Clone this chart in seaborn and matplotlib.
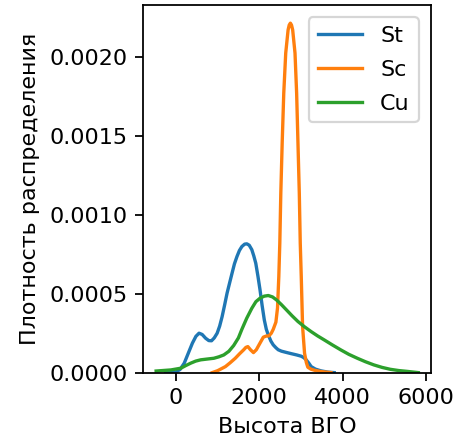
import matplotlib
matplotlib.use("Agg")
import matplotlib.pyplot as plt
import seaborn as sns
import pandas as pd

# density curves (x = height, y = density)
st_x = [-250, 0, 100, 200, 300, 396, 480, 555, 630, 713, 790, 855, 920, 990, 1050,
        1109, 1170, 1228, 1290, 1347, 1405, 1465, 1525, 1584, 1650, 1703, 1760,
        1822, 1870, 1917, 1970, 2019, 2070, 2122, 2170, 2217, 2280, 2336, 2400,
        2455, 2534, 2650, 2772, 2900, 3009, 3070, 3128, 3190, 3247, 3350, 3484,
        3650, 3800]
st_y = [0, 4e-6, 2.0e-5, 6.0e-5, 1.25e-4, 1.87e-4, 2.3e-4, 2.5e-4, 2.42e-4,
        2.18e-4, 2.03e-4, 2.02e-4, 2.2e-4, 2.5e-4, 2.95e-4, 3.55e-4, 4.3e-4,
        5.04e-4, 5.7e-4, 6.3e-4, 6.9e-4, 7.36e-4, 7.75e-4, 8.0e-4, 8.15e-4,
        8.17e-4, 8.08e-4, 7.8e-4, 7.4e-4, 6.94e-4, 6.1e-4, 5.25e-4, 4.25e-4,
        3.34e-4, 2.75e-4, 2.39e-4, 2.0e-4, 1.76e-4, 1.58e-4, 1.45e-4, 1.36e-4,
        1.28e-4, 1.2e-4, 1.12e-4, 1.04e-4, 9.5e-5, 8.1e-5, 6.0e-5, 3.8e-5,
        2.2e-5, 1.1e-5, 3e-6, 0]

sc_x = [872, 1000, 1188, 1300, 1425, 1530, 1624, 1680, 1727, 1790, 1861, 1930,
        1995, 2099, 2170, 2233, 2290, 2337, 2400, 2439, 2470, 2494, 2518, 2551,
        2589, 2636, 2693, 2720, 2748, 2775, 2803, 2859, 2898, 2930, 2962, 2985,
        3009, 3041, 3088, 3130, 3167, 3240, 3325, 3500, 3722]
sc_y = [0, 1.2e-5, 3.8e-5, 6.2e-5, 9.1e-5, 1.2e-4, 1.44e-4, 1.6e-4, 1.65e-4,
        1.45e-4, 1.27e-4, 1.45e-4, 1.76e-4, 2.25e-4, 2.32e-4, 2.33e-4, 2.5e-4,
        2.75e-4, 3.2e-4, 4.1e-4, 6.09e-4, 8.21e-4, 1.138e-3, 1.456e-3,
        1.773e-3, 2.027e-3, 2.174e-3, 2.205e-3, 2.217e-3, 2.205e-3, 2.174e-3,
        2.027e-3, 1.773e-3, 1.456e-3, 1.138e-3, 8.21e-4, 6.09e-4, 2.92e-4,
        1.23e-4, 6.5e-5, 3.4e-5, 2.2e-5, 1.5e-5, 6e-6, 0]

cu_x = [-475, -119, 119, 240, 356, 475, 594, 750, 911, 1030, 1149, 1270, 1387,
        1500, 1584, 1700, 1822, 1920, 2019, 2120, 2217, 2320, 2415, 2530, 2653,
        2790, 2930, 3090, 3247, 3400, 3563, 3760, 3959, 4150, 4355, 4550, 4750,
        4950, 5146, 5350, 5543, 5819]
cu_y = [1.0e-5, 1.7e-5, 2.8e-5, 4.5e-5, 6.0e-5, 7.3e-5, 8.1e-5, 8.6e-5, 9.1e-5,
        1.0e-4, 1.12e-4, 1.35e-4, 1.72e-4, 2.2e-4, 2.75e-4, 3.45e-4, 4.08e-4,
        4.5e-4, 4.72e-4, 4.85e-4, 4.89e-4, 4.8e-4, 4.61e-4, 4.32e-4, 3.98e-4,
        3.6e-4, 3.24e-4, 2.9e-4, 2.6e-4, 2.33e-4, 2.07e-4, 1.75e-4, 1.44e-4,
        1.16e-4, 9.1e-5, 6.9e-5, 4.9e-5, 3.3e-5, 2.1e-5, 1.3e-5, 8e-6, 0]

labels = ["St", "Sc", "Cu"]
colors = ["C0", "C1", "C2"]

fig = plt.figure(figsize=(454 / 160, 442 / 160), dpi=160)
ax = fig.add_axes([0.315, 0.157, 0.634, 0.832])

for xs, ys, lab, col in zip([st_x, sc_x, cu_x], [st_y, sc_y, cu_y], labels, colors):
    df = pd.DataFrame({"x": xs, "y": ys})
    sns.lineplot(data=df, x="x", y="y", ax=ax, label=lab, color=col, linewidth=1.5)

ax.set_xlim(-790, 6120)
ax.set_ylim(0, 0.002333)
ax.set_xticks([0, 2000, 4000, 6000])
ax.set_yticks([0, 0.0005, 0.001, 0.0015, 0.002])
ax.set_xlabel("Высота ВГО")
ax.set_ylabel("Плотность распределения")
ax.legend(loc="upper right", labelspacing=0.62, borderaxespad=0.55)

fig.savefig("out.png", dpi=160)
